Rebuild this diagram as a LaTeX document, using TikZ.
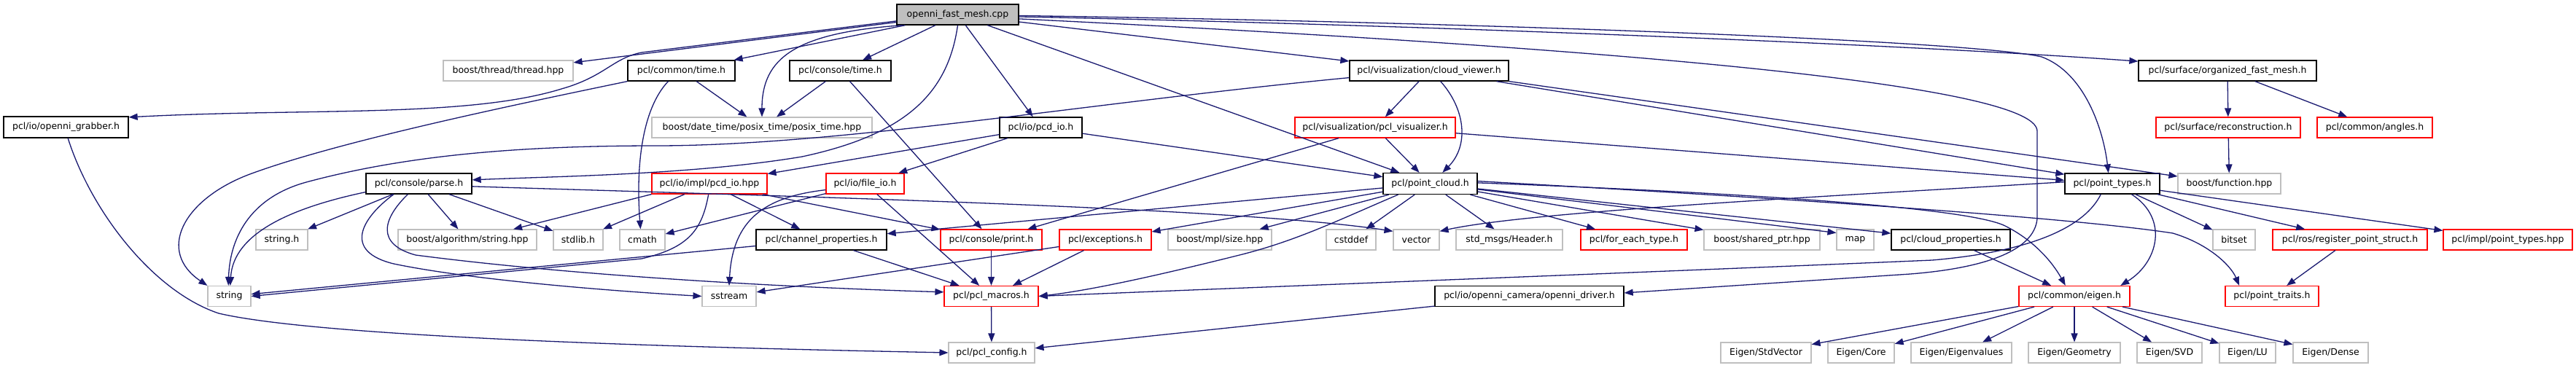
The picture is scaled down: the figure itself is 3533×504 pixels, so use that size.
\documentclass[tikz,border=0pt]{standalone}
\usepackage{fontspec}
\setmainfont{DejaVu Sans}
\usetikzlibrary{arrows.meta}
\definecolor{edgeblue}{HTML}{191970}
\definecolor{graybox}{HTML}{BFBFBF}
\begin{document}
\begin{tikzpicture}[x=1pt,y=-1pt,
  every node/.style={font=\fontsize{12.5}{15}\selectfont},
  box/.style={rectangle, line width=1.3pt, inner sep=0pt, minimum height=28pt, fill=white},
  bbox/.style={box, draw=black},
  gbox/.style={box, draw=graybox, line width=1.1pt},
  rbox/.style={box, draw=red, line width=1.2pt},
  rootbox/.style={box, draw=black, fill=graybox},
  inc/.style={draw=edgeblue, line width=1.3pt, -{Triangle[length=12pt,width=9pt]}}]
\useasboundingbox (0,0) rectangle (3533,504);
% row 1
\node[rootbox, minimum width=167] (root) at (1313.5,20) {openni\_fast\_mesh.cpp};
% row 2
\node[gbox, minimum width=178] (thread) at (697,97) {boost/thread/thread.hpp};
\node[bbox, minimum width=147] (ctime) at (934.5,97) {pcl/common/time.h};
\node[bbox, minimum width=139] (cstime) at (1152.5,97) {pcl/console/time.h};
\node[bbox, minimum width=218] (cviewer) at (1960,97) {pcl/visualization/cloud\_viewer.h};
\node[bbox, minimum width=244] (ofm) at (3055,97) {pcl/surface/organized\_fast\_mesh.h};
% row 3
\node[bbox, minimum width=171, minimum height=29] (grabber) at (90.5,174.5) {pcl/io/openni\_grabber.h};
\node[gbox, minimum width=302] (posix) at (1045,175) {boost/date\_time/posix\_time/posix\_time.hpp};
\node[bbox, minimum width=113] (pcdio) at (1427.5,175) {pcl/io/pcd\_io.h};
\node[rbox, minimum width=220] (pclvis) at (1886,175) {pcl/visualization/pcl\_visualizer.h};
\node[rbox, minimum width=198] (recon) at (3056,175) {pcl/surface/reconstruction.h};
\node[rbox, minimum width=158] (angles) at (3257,175) {pcl/common/angles.h};
% row 4
\node[bbox, minimum width=145] (parse) at (574.5,252) {pcl/console/parse.h};
\node[rbox, minimum width=158] (pcdhpp) at (973,252) {pcl/io/impl/pcd\_io.hpp};
\node[rbox, minimum width=107] (fileio) at (1186.5,252) {pcl/io/file\_io.h};
\node[bbox, minimum width=129, minimum height=29] (pcloud) at (1961.5,252) {pcl/point\_cloud.h};
\node[bbox, minimum width=130] (ptypes) at (2897,252) {pcl/point\_types.h};
\node[gbox, minimum width=141] (function) at (3057.5,252) {boost/function.hpp};
% row 5
\node[gbox, minimum width=71] (stringh) at (386.5,329) {string.h};
\node[gbox, minimum width=190] (algo) at (641,329) {boost/algorithm/string.hpp};
\node[gbox, minimum width=68] (stdlib) at (793,329) {stdlib.h};
\node[gbox, minimum width=62] (cmath) at (881,329) {cmath};
\node[bbox, minimum width=179] (chprop) at (1126.5,329) {pcl/channel\_properties.h};
\node[rbox, minimum width=139] (print) at (1359.5,329) {pcl/console/print.h};
\node[rbox, minimum width=126] (except) at (1516,329) {pcl/exceptions.h};
\node[gbox, minimum width=142] (mplsize) at (1673,329) {boost/mpl/size.hpp};
\node[gbox, minimum width=68] (cstddef) at (1853,329) {cstddef};
\node[gbox, minimum width=63] (vector) at (1942.5,329) {vector};
\node[gbox, minimum width=146] (header) at (2070,329) {std\_msgs/Header.h};
\node[rbox, minimum width=146] (foreach) at (2241,329) {pcl/for\_each\_type.h};
\node[gbox, minimum width=159] (sharedptr) at (2416.5,329) {boost/shared\_ptr.hpp};
\node[gbox, minimum width=51] (map) at (2544.5,329) {map};
\node[bbox, minimum width=163] (cloudprop) at (2675.5,329) {pcl/cloud\_properties.h};
\node[gbox, minimum width=58] (bitset) at (3064,329) {bitset};
\node[rbox, minimum width=212] (regps) at (3223,329) {pcl/ros/register\_point\_struct.h};
\node[rbox, minimum width=177] (implpt) at (3439.5,329) {pcl/impl/point\_types.hpp};
% row 6
\node[gbox, minimum width=59] (string) at (314.5,406.5) {string};
\node[gbox, minimum width=74] (sstream) at (1000,406.5) {sstream};
\node[rbox, minimum width=129] (macros) at (1359.5,406.5) {pcl/pcl\_macros.h};
\node[bbox, minimum width=259] (driver) at (2097.5,406.5) {pcl/io/openni\_camera/openni\_driver.h};
\node[rbox, minimum width=152] (eigen) at (2845,406.5) {pcl/common/eigen.h};
\node[rbox, minimum width=128] (traits) at (3116,406.5) {pcl/point\_traits.h};
% row 7
\node[gbox, minimum width=118] (config) at (1360,484) {pcl/pcl\_config.h};
\node[gbox, minimum width=124] (estd) at (2422,484) {Eigen/StdVector};
\node[gbox, minimum width=91] (ecore) at (2552.5,484) {Eigen/Core};
\node[gbox, minimum width=138] (eeig) at (2690,484) {Eigen/Eigenvalues};
\node[gbox, minimum width=126] (egeom) at (2845,484) {Eigen/Geometry};
\node[gbox, minimum width=89] (esvd) at (2975.5,484) {Eigen/SVD};
\node[gbox, minimum width=77] (elu) at (3082.5,484) {Eigen/LU};
\node[gbox, minimum width=103] (edense) at (3196.5,484) {Eigen/Dense};

% ---- edges from root
\draw[inc] (root) -- (thread);
\draw[inc] (root.186) -- (880,72) .. controls (840,80) and (830,105) .. (770,122) .. controls (640,162) and (420,148) .. (grabber.9);
\draw[inc] (root) -- (ctime);
\draw[inc] (root.191) .. controls (1090,45) and (1045,80) .. (posix.north);
\draw[inc] (root) -- (cstime);
\draw[inc] (root.south) .. controls (1300,130) and (1240,185) .. (1100,215) .. controls (950,240) and (760,242) .. (parse.4);
\draw[inc] (root) -- (pcdio);
\draw[inc] (root) -- (pcloud);
\draw[inc] (root) -- (cviewer);
\draw[inc] (root.-2) .. controls (1900,33) and (2600,60) .. (ofm.174);
\draw[inc] (root.-1) .. controls (2000,30) and (2700,55) .. (2800,78) .. controls (2860,100) and (2885,180) .. (ptypes.110);
\draw[inc] (root.-4) .. controls (2100,60) and (2794,110) .. (2794,180) -- (2794,300) .. controls (2790,345) and (2720,368) .. (2620,376) -- (driver.2);
% ---- grabber
\draw[inc] (grabber.-80) .. controls (125,290) and (210,400) .. (300,430) .. controls (450,465) and (1000,478) .. (config.west);
% ---- common/time.h
\draw[inc] (ctime) -- (posix);
\draw[inc] (ctime.219) .. controls (880,150) and (872,230) .. (cmath.100);
\draw[inc] (ctime.south west) .. controls (700,145) and (460,195) .. (340,240) .. controls (250,275) and (215,345) .. (string.north west);
% ---- console/time.h
\draw[inc] (cstime) -- (posix);
\draw[inc] (cstime) -- (print);
% ---- cloud_viewer.h
\draw[inc] (cviewer.185) .. controls (1500,140) and (1150,200) .. (900,200) .. controls (700,200) and (550,215) .. (420,250) .. controls (340,272) and (315,330) .. (string.95);
\draw[inc] (cviewer) -- (pclvis);
\draw[inc] (cviewer.-43) .. controls (2010,150) and (2015,200) .. (pcloud.42);
\draw[inc] (cviewer.south east) -- (function.172);
\draw[inc] (cviewer.-9) -- (ptypes.169);
% ---- pcl_visualizer.h
\draw[inc] (pclvis.-4) -- (ptypes.176);
\draw[inc] (pclvis) -- (print);
\draw[inc] (pclvis) -- (pcloud);
% ---- pcd_io.h
\draw[inc] (pcdio) -- (pcdhpp);
\draw[inc] (pcdio) -- (fileio);
\draw[inc] (pcdio) -- (pcloud);
% ---- parse.h
\draw[inc] (parse) -- (stringh);
\draw[inc] (parse) -- (algo);
\draw[inc] (parse) -- (stdlib);
\draw[inc] (parse.189) .. controls (400,285) and (320,320) .. (string.85);
\draw[inc] (parse.203) .. controls (495,300) and (470,345) .. (540,362) .. controls (650,385) and (850,400) .. (sstream.west);
\draw[inc] (parse.224) .. controls (525,300) and (515,335) .. (570,350) .. controls (800,380) and (1100,395) .. (macros.175);
\draw[inc] (parse.-3) .. controls (1100,270) and (1700,285) .. (vector.160);
% ---- impl/pcd_io.hpp
\draw[inc] (pcdhpp.south west) -- (algo.13);
\draw[inc] (pcdhpp) -- (stdlib);
\draw[inc] (pcdhpp.-95) .. controls (963,315) and (945,340) .. (880,355) -- (string.east);
\draw[inc] (pcdhpp) -- (chprop);
\draw[inc] (pcdhpp) -- (print);
% ---- file_io.h
\draw[inc] (fileio.189) .. controls (1050,270) and (1005,300) .. (sstream.north);
\draw[inc] (fileio) -- (cmath);
\draw[inc] (fileio) -- (macros);
% ---- channel_properties.h, print.h, exceptions.h
\draw[inc] (chprop) -- (macros);
\draw[inc] (chprop) -- (string);
\draw[inc] (print) -- (macros);
\draw[inc] (except) -- (macros);
\draw[inc] (except) -- (sstream);
% ---- point_cloud.h
\draw[inc] (pcloud) -- (chprop);
\draw[inc] (pcloud) -- (except);
\draw[inc] (pcloud) -- (mplsize);
\draw[inc] (pcloud.199) .. controls (1840,300) and (1780,330) .. (1700,350) .. controls (1600,375) and (1500,398) .. (macros.east);
\draw[inc] (pcloud) -- (cstddef);
\draw[inc] (pcloud) -- (header);
\draw[inc] (pcloud) -- (foreach);
\draw[inc] (pcloud) -- (sharedptr);
\draw[inc] (pcloud) -- (map.160);
\draw[inc] (pcloud) -- (cloudprop);
\draw[inc] (pcloud.1) .. controls (2400,265) and (2700,285) .. (2750,310) .. controls (2790,330) and (2815,360) .. (eigen.130);
\draw[inc] (pcloud.3) .. controls (2500,275) and (2850,300) .. (2980,320) .. controls (3030,335) and (3060,365) .. (traits.162);
% ---- point_types.h
\draw[inc] (ptypes.178) .. controls (2500,270) and (2100,290) .. (vector.20);
\draw[inc] (ptypes.223) .. controls (2860,310) and (2790,345) .. (2650,357) .. controls (2300,372) and (1700,395) .. (macros.east);
\draw[inc] (ptypes.-29) .. controls (2975,300) and (2960,360) .. (eigen.13);
\draw[inc] (ptypes) -- (bitset);
\draw[inc] (ptypes) -- (regps);
\draw[inc] (ptypes) -- (implpt);
% ---- others
\draw[inc] (cloudprop) -- (eigen);
\draw[inc] (regps) -- (traits);
\draw[inc] (eigen) -- (estd);
\draw[inc] (eigen) -- (ecore);
\draw[inc] (eigen) -- (eeig);
\draw[inc] (eigen) -- (egeom);
\draw[inc] (eigen) -- (esvd);
\draw[inc] (eigen) -- (elu);
\draw[inc] (eigen) -- (edense);
\draw[inc] (ofm) -- (recon);
\draw[inc] (ofm) -- (angles);
\draw[inc] (recon) -- (function);
\draw[inc] (driver) -- (config);
\draw[inc] (macros) -- (config);
\end{tikzpicture}
\end{document}
